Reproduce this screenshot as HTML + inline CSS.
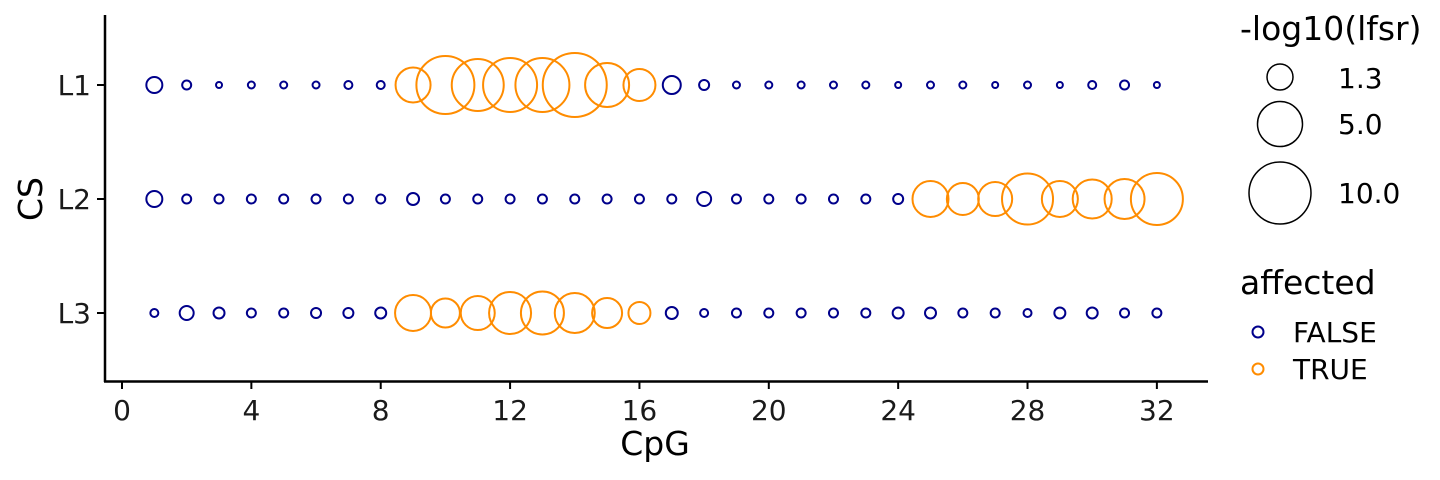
<!DOCTYPE html>
<html><head><meta charset="utf-8"><style>
html,body{margin:0;padding:0;background:#fff;}
svg{display:block;font-family:"DejaVu Sans","Liberation Sans",sans-serif;}
</style></head><body>
<svg id="s" width="1440" height="480" viewBox="0 0 1440 480" xmlns="http://www.w3.org/2000/svg">
<rect width="1440" height="480" fill="#fff"/>
<g id="pts"></g>
<line x1="105" y1="15" x2="105" y2="382" stroke="#000" stroke-width="2.5"/>
<line x1="104" y1="381.5" x2="1208" y2="381.5" stroke="#000" stroke-width="2.5"/>
<g stroke="#000" stroke-width="2">
<line x1="97" y1="85" x2="105" y2="85"/><line x1="97" y1="199" x2="105" y2="199"/><line x1="97" y1="313" x2="105" y2="313"/>
</g>
<g font-size="28" fill="#1a1a1a" text-anchor="end">
<text x="91" y="95">L1</text><text x="91" y="209">L2</text><text x="91" y="323">L3</text>
</g>
<g id="xt" font-size="28" fill="#1a1a1a" text-anchor="middle"></g>
<text x="655" y="455" font-size="33" text-anchor="middle">CpG</text>
<text transform="translate(42,199) rotate(-90)" font-size="33" text-anchor="middle">CS</text>
<text x="1240" y="40" font-size="33">-log10(lfsr)</text>
<g fill="none" stroke="#000" stroke-width="1.5">
<circle cx="1280" cy="77" r="13"/><circle cx="1280" cy="124" r="22.5"/><circle cx="1280" cy="193" r="31"/>
</g>
<g font-size="28">
<text x="1338" y="88">1.3</text><text x="1338" y="134">5.0</text><text x="1338" y="203">10.0</text>
</g>
<text x="1240" y="294" font-size="33">affected</text>
<circle cx="1258" cy="332" r="5.5" fill="none" stroke="#00008B" stroke-width="2"/>
<circle cx="1258" cy="369" r="5.5" fill="none" stroke="#FF8C00" stroke-width="2"/>
<g font-size="28"><text x="1293" y="342">FALSE</text><text x="1293" y="379">TRUE</text></g>
</svg>
<script>
var ns="http://www.w3.org/2000/svg";
function X(v){return 122+v*32.34;}
var rows=[
 {y:85,r:[8,4.5,3,3.5,3.5,3.5,4,4,17.5,29,26,27,27,32,22,16,9,5,3.5,3.5,3.5,3.5,3.5,3,3.5,3.5,3,3.5,3,4,4.5,3],t:[9,16]},
 {y:199,r:[8,4.5,4.5,4.5,4.5,4.5,4.5,4.5,6,4.5,4.5,4.5,4.5,4.5,4.5,4.5,4.5,7,4.5,4.5,4.5,4.5,4.5,5,18,16,17,25.5,18,19.5,20,26],t:[25,32]},
 {y:313,r:[4,7,5.5,4.5,4.5,5,5,5.5,18,14.5,17,21,21.5,20,15,11,6,4,4.5,4.5,4.5,4.5,4.5,5.5,5.5,4.5,4.5,4,5.5,5.5,4.5,4.5],t:[9,16]}
];
var g=document.getElementById("pts");
rows.forEach(function(row){
 row.r.forEach(function(r,i){
  var v=i+1,c=document.createElementNS(ns,"circle");
  var tr=v>=row.t[0]&&v<=row.t[1];
  c.setAttribute("cx",X(v));c.setAttribute("cy",row.y);c.setAttribute("r",r);
  c.setAttribute("fill","none");c.setAttribute("stroke",tr?"#FF8C00":"#00008B");
  c.setAttribute("stroke-width","2");
  g.appendChild(c);
 });
});
var xt=document.getElementById("xt");
for(var v=0;v<=32;v+=4){
 var l=document.createElementNS(ns,"line");
 l.setAttribute("x1",X(v));l.setAttribute("x2",X(v));l.setAttribute("y1",382);l.setAttribute("y2",389);
 l.setAttribute("stroke","#000");l.setAttribute("stroke-width","2");
 document.getElementById("s").appendChild(l);
 var t=document.createElementNS(ns,"text");t.setAttribute("x",X(v));t.setAttribute("y",420);t.textContent=v;xt.appendChild(t);
}
</script>
</body></html>
